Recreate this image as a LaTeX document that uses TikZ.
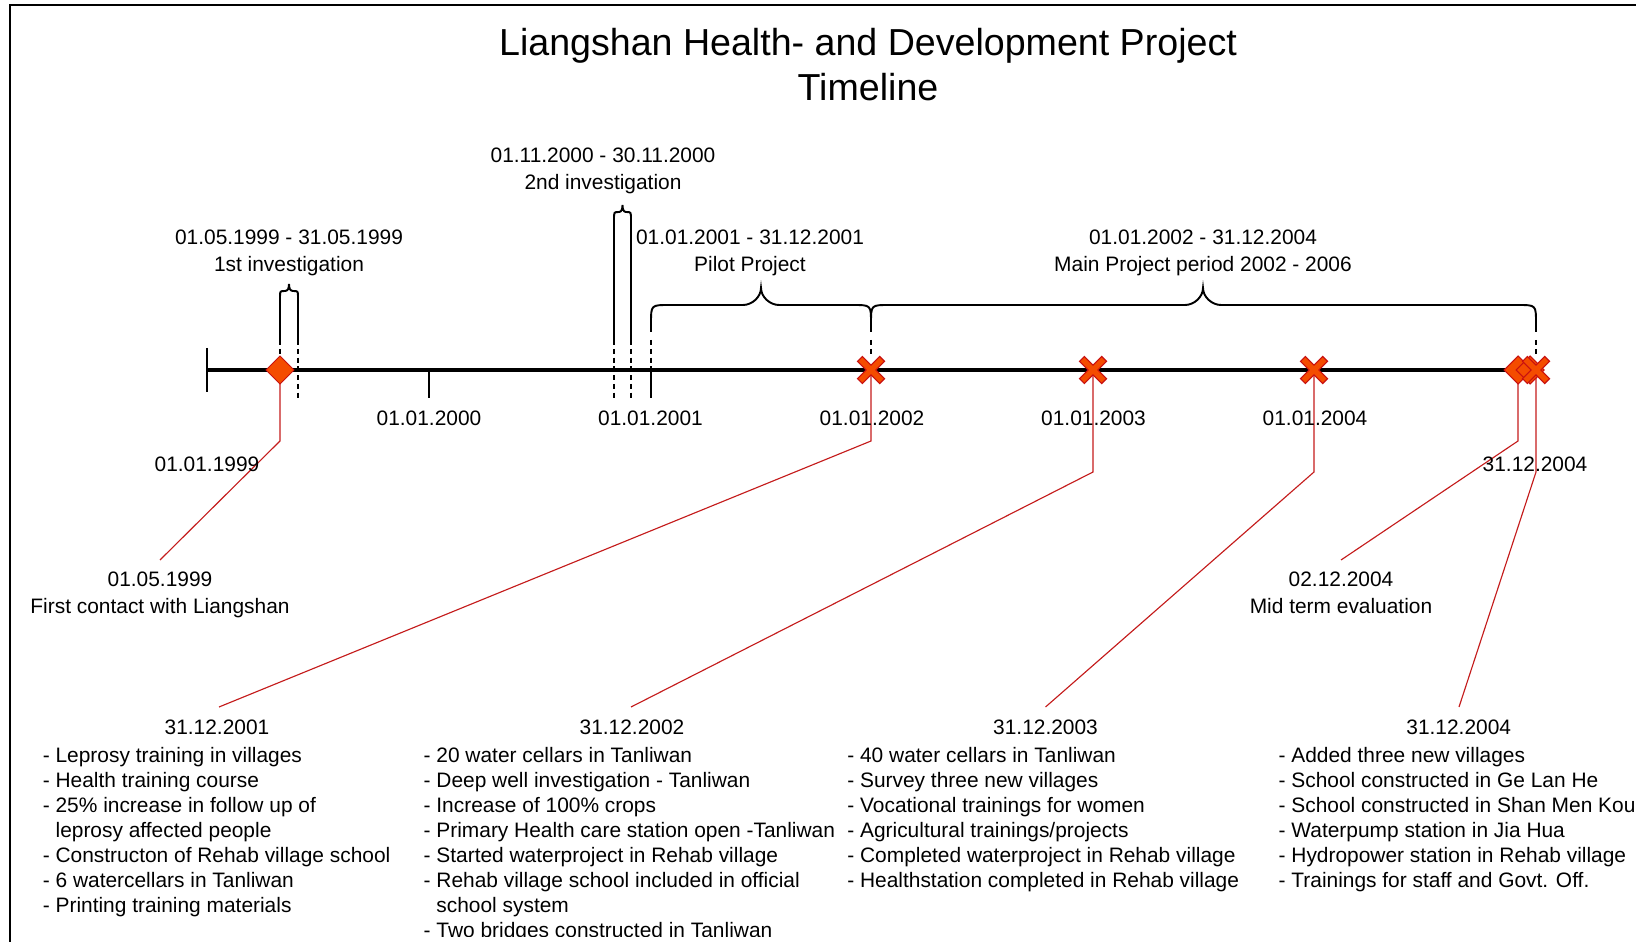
\documentclass[tikz,border=0pt]{standalone}
\usepackage{fontspec}
\setmainfont{Liberation Sans}
\definecolor{mkfill}{RGB}{244,76,0}
\definecolor{mkborder}{RGB}{200,16,16}
\definecolor{linered}{RGB}{196,28,28}
\begin{document}
\begin{tikzpicture}[x=0.02cm,y=-0.02cm,
  lbl/.style={font=\fontsize{11.9}{14}\selectfont, inner sep=0pt, anchor=base},
  item/.style={font=\fontsize{11.9}{14}\selectfont, inner sep=0pt, anchor=base west},
  ttl/.style={font=\fontsize{21.4}{25}\selectfont, inner sep=0pt, anchor=base},
  frm/.style={line width=1.25pt, black},
  axisline/.style={line width=1.8pt, black},
  brc/.style={line width=1.1pt, black},
  dsh/.style={line width=0.65pt, dash pattern=on 3pt off 2pt},
  tickline/.style={line width=0.65pt},
  conn/.style={draw=linered, line width=0.65pt},
  xout/.style={draw=mkborder, line width=4.5pt},
  xin/.style={draw=mkfill, line width=3.1pt},
  dmd/.style={fill=mkfill, draw=mkborder, line width=0.6pt, line join=miter},
  xmark/.pic={
    \draw[xout] (-11.5,-11.5) -- (11.5,11.5) (-11.5,11.5) -- (11.5,-11.5);
    \draw[xin] (-10.6,-10.6) -- (10.6,10.6) (-10.6,10.6) -- (10.6,-10.6);
  },
  dmark/.pic={
    \draw[dmd] (-14,0) -- (0,-14) -- (14,0) -- (0,14) -- cycle;
  }
]
\useasboundingbox (0,0) rectangle (1636,942);
\clip (0,0) rectangle (1636,942);

% frame
\draw[frm] (10,942) -- (10,5) -- (1636,5);

% title
\node[ttl] (title1) at (868,55.4) {Liangshan Health- and Development Project};
\node[ttl] (title2) at (868,100.4) {Timeline};

% marker coordinates
\coordinate (tStart) at (207,370);
\coordinate (tEnd) at (1536,370);
\coordinate (d1) at (280,370);
\coordinate (x2) at (871,370);
\coordinate (x3) at (1093,370);
\coordinate (x4) at (1314,370);
\coordinate (d2) at (1518,370);
\coordinate (d3) at (1530,370);
\coordinate (x5) at (1536,370);

% braces
\draw[brc] (280,340) -- (280,297) .. controls (280,291) .. (285,291)
  .. controls (288,291) and (289,288) .. (289,284)
  .. controls (289,288) and (290,291) .. (293,291)
  .. controls (298,291) .. (298,297) -- (298,340);
\draw[brc] (614,340) -- (614,219) .. controls (614,212) .. (619,212)
  .. controls (621.5,212) and (622.5,209) .. (622.5,205)
  .. controls (622.5,209) and (623.5,212) .. (626,212)
  .. controls (631,212) .. (631,219) -- (631,340);
\draw[brc] (651,332) -- (651,323) .. controls (651,305) .. (669,305) -- (743,305)
  .. controls (752,305) and (761,297) .. (761,288)
  .. controls (761,297) and (770,305) .. (779,305) -- (853,305)
  .. controls (871,305) .. (871,323) -- (871,332);
\draw[brc] (871,332) -- (871,323) .. controls (871,305) .. (889,305) -- (1185,305)
  .. controls (1194,305) and (1203,297) .. (1203,288)
  .. controls (1203,297) and (1212,305) .. (1221,305) -- (1518,305)
  .. controls (1536,305) .. (1536,323) -- (1536,332);

% dashed extension lines
\draw[dsh] (280,340) -- (280,356);
\draw[dsh] (298,340) -- (298,398);
\draw[dsh] (614,340) -- (614,398);
\draw[dsh] (631,340) -- (631,398);
\draw[dsh] (651,340) -- (651,370);
\draw[dsh] (871,340) -- (871,356);
\draw[dsh] (1536,340) -- (1536,356);

% ticks
\draw[tickline] (207,348) -- (207,392);
\draw[tickline] (429,370) -- (429,398);
\draw[tickline] (651,370) -- (651,398);

% axis
\draw[axisline] (tStart) -- (tEnd);

% connectors
\coordinate (b1) at (280,441);   \coordinate (e1) at (160,560);
\coordinate (b2) at (871,441);   \coordinate (e2) at (219,707);
\coordinate (b3) at (1093,472);  \coordinate (e3) at (631,707);
\coordinate (b4) at (1314,472);  \coordinate (e4) at (1045.5,707);
\coordinate (b5) at (1518,441);  \coordinate (e5) at (1341,560);
\coordinate (b6) at (1536,472);  \coordinate (e6) at (1459,707);
\draw[conn] (d1) -- (b1) -- (e1);
\draw[conn] (x2) -- (b2) -- (e2);
\draw[conn] (x3) -- (b3) -- (e3);
\draw[conn] (x4) -- (b4) -- (e4);
\draw[conn] (d2) -- (b5) -- (e5);
\draw[conn] (x5) -- (b6) -- (e6);

% markers
\pic at (d1) {dmark};
\pic at (x2) {xmark};
\pic at (x3) {xmark};
\pic at (x4) {xmark};
\pic at (d2) {dmark};
\pic at (d3) {dmark};
\pic at (x5) {xmark};

% period labels
\node[lbl] (p1a) at (289,244.4) {01.05.1999 - 31.05.1999};
\node[lbl] (p1b) at (289,271.4) {1st investigation};
\node[lbl] (p2a) at (603,162.9) {01.11.2000 - 30.11.2000};
\node[lbl] (p2b) at (603,190) {2nd investigation};
\node[lbl] (p3a) at (750,244.4) {01.01.2001 - 31.12.2001};
\node[lbl] (p3b) at (750,271.4) {Pilot Project};
\node[lbl] (p4a) at (1203,244.4) {01.01.2002 - 31.12.2004};
\node[lbl] (p4b) at (1203,271.4) {Main Project period 2002 - 2006};

% axis labels
\node[lbl] (y2000) at (429,425.4) {01.01.2000};
\node[lbl] (y2001) at (650.5,425.4) {01.01.2001};
\node[lbl] (y2002) at (872,425.4) {01.01.2002};
\node[lbl] (y2003) at (1093.5,425.4) {01.01.2003};
\node[lbl] (y2004) at (1315,425.4) {01.01.2004};
\node[lbl] (ystart) at (207,471.4) {01.01.1999};
\node[lbl] (yend) at (1535,471.4) {31.12.2004};

% event labels
\node[lbl] (ev1a) at (160,586.4) {01.05.1999};
\node[lbl] (ev1b) at (160,613.4) {First contact with Liangshan};
\node[lbl] (ev2a) at (1341,586.4) {02.12.2004};
\node[lbl] (ev2b) at (1341,613.4) {Mid term evaluation};

% result blocks
\node[lbl] (h1) at (217,734.4) {31.12.2001};
\node[lbl] (h2) at (632,734.4) {31.12.2002};
\node[lbl] (h3) at (1045.5,734.4) {31.12.2003};
\node[lbl] (h4) at (1458.7,734.4) {31.12.2004};

\foreach \t [count=\i] in {- Leprosy training in villages, - Health training course,
  - 25\% increase in follow up of, \phantom{- }leprosy affected people,
  - Constructon of Rehab village school, - 6 watercellars in Tanliwan,
  - Printing training materials}
  \node[item] (la\i) at (42.5,{762.3+25*(\i-1)}) {\t};

\begin{scope}
\clip (0,0) rectangle (1636,936);
\foreach \t [count=\i] in {- 20 water cellars in Tanliwan, - Deep well investigation - Tanliwan,
  - Increase of 100\% crops, - Primary Health care station open -Tanliwan,
  - Started waterproject in Rehab village, - Rehab village school included in official,
  \phantom{- }school system, - Two bridges constructed in Tanliwan}
  \node[item] (lb\i) at (423.3,{762.3+25*(\i-1)}) {\t};
\end{scope}

\foreach \t [count=\i] in {- 40 water cellars in Tanliwan, - Survey three new villages,
  - Vocational trainings for women, - Agricultural trainings/projects,
  - Completed waterproject in Rehab village, - Healthstation completed in Rehab village}
  \node[item] (lc\i) at (847,{762.3+25*(\i-1)}) {\t};

\foreach \t [count=\i] in {- Added three new villages, - School constructed in Ge Lan He,
  - School constructed in Shan Men Kou, - Waterpump station in Jia Hua,
  - Hydropower station in Rehab village, - Trainings for staff and Govt. Off.}
  \node[item] (ld\i) at (1278.3,{762.3+25*(\i-1)}) {\t};

\end{tikzpicture}
\end{document}
